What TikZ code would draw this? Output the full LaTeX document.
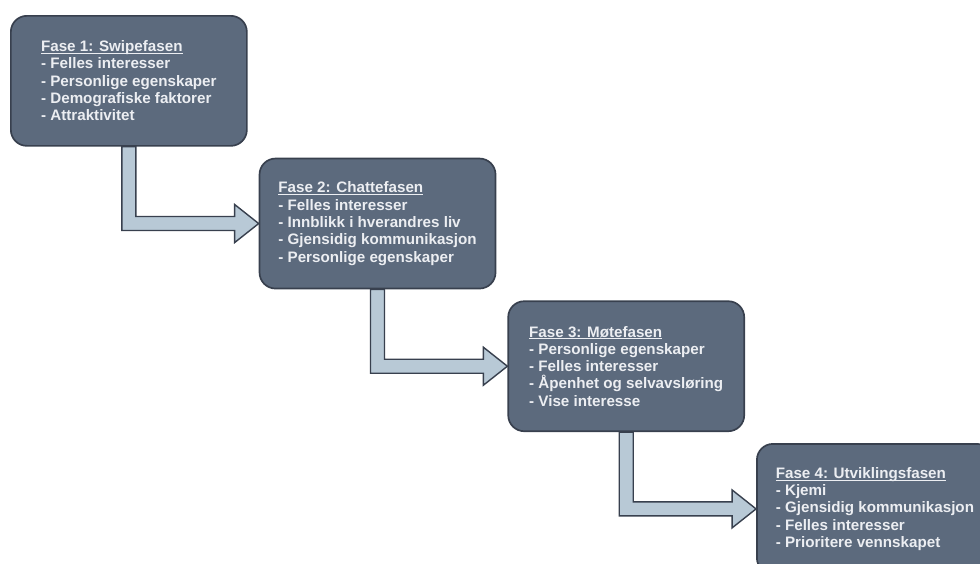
\documentclass[tikz,border=0pt]{standalone}
\usepackage{fontspec}
\setmainfont{Liberation Sans}
\usetikzlibrary{
    positioning,
    calc,
    backgrounds
}
\definecolor{FaseGra}{RGB}{92,106,125}
\definecolor{KantGra}{RGB}{56,64,78}
\definecolor{PilBla}{RGB}{184,201,214}
\definecolor{TekstLys}{RGB}{236,238,242}
\newcommand{\understrek}[1]{\setbox0\hbox{#1}\rlap{\rule[-1.6pt]{\wd0}{0.6pt}}\box0}

\begin{document}
\begin{tikzpicture}[
    fase/.style={rectangle, draw=KantGra, line width=1.2pt, minimum width=5.9cm, minimum height=3.25cm, align=left, rounded corners=0.4cm, fill=FaseGra, text=TekstLys, font=\fontsize{10.8}{12.3}\selectfont\bfseries},
    pil/.style={draw=KantGra, line width=1pt, fill=PilBla, line join=miter}
]
\useasboundingbox (0,0) rectangle (24.5,-14.075);
\node[fase, anchor=north west] (swipe) at (0.25,-0.375) {\understrek{Fase 1: Swipefasen}\\ - Felles interesser\\ - Personlige egenskaper\\ - Demografiske faktorer\\ - Attraktivitet};
\node[fase, below right=0.275cm and 0.275cm of swipe] (chatte) {\understrek{Fase 2: Chattefasen}\\ - Felles interesser\\ - Innblikk i hverandres liv\\ - Gjensidig kommunikasjon\\ - Personlige egenskaper};
\node[fase, below right=0.275cm and 0.275cm of chatte] (mote) {\understrek{Fase 3: Møtefasen}\\ - Personlige egenskaper\\ - Felles interesser\\ - Åpenhet og selvavsløring\\ - Vise interesse};
\node[fase, below right=0.275cm and 0.275cm of mote] (utvikling) {\understrek{Fase 4: Utviklingsfasen}\\ - Kjemi\\ - Gjensidig kommunikasjon\\ - Felles interesser\\ - Prioritere vennskapet};

% pilene mellom fasene
\begin{scope}[on background layer]
\filldraw[pil] let \p1=(swipe.south), \p2=(chatte.west) in
    (\x1-0.175cm,\y1) -- (\x1-0.175cm,\y2-0.175cm) -- (\x2-0.6cm,\y2-0.175cm) -- (\x2-0.6cm,\y2-0.475cm) -- (\p2)
    -- (\x2-0.6cm,\y2+0.475cm) -- (\x2-0.6cm,\y2+0.175cm) -- (\x1+0.175cm,\y2+0.175cm) -- (\x1+0.175cm,\y1) -- cycle;
\filldraw[pil] let \p1=(chatte.south), \p2=(mote.west) in
    (\x1-0.175cm,\y1) -- (\x1-0.175cm,\y2-0.175cm) -- (\x2-0.6cm,\y2-0.175cm) -- (\x2-0.6cm,\y2-0.475cm) -- (\p2)
    -- (\x2-0.6cm,\y2+0.475cm) -- (\x2-0.6cm,\y2+0.175cm) -- (\x1+0.175cm,\y2+0.175cm) -- (\x1+0.175cm,\y1) -- cycle;
\filldraw[pil] let \p1=(mote.south), \p2=(utvikling.west) in
    (\x1-0.175cm,\y1) -- (\x1-0.175cm,\y2-0.175cm) -- (\x2-0.6cm,\y2-0.175cm) -- (\x2-0.6cm,\y2-0.475cm) -- (\p2)
    -- (\x2-0.6cm,\y2+0.475cm) -- (\x2-0.6cm,\y2+0.175cm) -- (\x1+0.175cm,\y2+0.175cm) -- (\x1+0.175cm,\y1) -- cycle;
\end{scope}
\end{tikzpicture}
\end{document}
